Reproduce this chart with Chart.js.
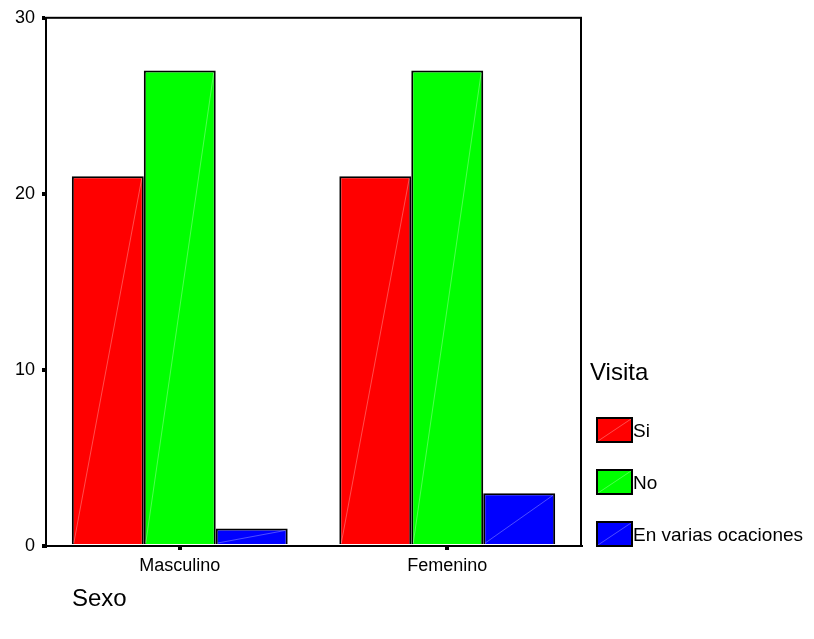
<!DOCTYPE html>
<html>
<head>
<meta charset="utf-8">
<script src="https://cdn.jsdelivr.net/npm/chart.js@4"></script>
<style>
  html, body { margin: 0; padding: 0; background: #fff; }
  #wrap { width: 814px; height: 639px; }
</style>
</head>
<body>
<div id="wrap"><canvas id="c" width="814" height="639"></canvas></div>
<script>
const categories = ['Masculino', 'Femenino'];
const seriesNames = ['Si', 'No', 'En varias ocaciones'];
const siValues = [21, 21];
const noValues = [27, 27];
const variasValues = [1, 3];
const yTicks = [0, 10, 20, 30];
const seriesColors = ['#ff0000', '#00ff00', '#0000ff'];

const FONT = '"Liberation Sans", Arial, sans-serif';

// 枠線・diagonal・凡例を描く
const spssDecor = {
  id: 'spssDecor',
  afterDatasetsDraw(chart) {
    const ctx = chart.ctx;
    ctx.save();
    ctx.strokeStyle = 'rgba(255,255,255,0.3)';
    ctx.lineWidth = 1;
    chart.data.datasets.forEach((ds, i) => {
      chart.getDatasetMeta(i).data.forEach(bar => {
        const l = bar.x - bar.width / 2, r = bar.x + bar.width / 2;
        ctx.beginPath();
        ctx.moveTo(l + 2, bar.base - 1);
        ctx.lineTo(r - 2, bar.y + 2);
        ctx.stroke();
      });
    });
    ctx.restore();
  },
  afterDraw(chart) {
    const ctx = chart.ctx;
    const a = chart.chartArea;
    ctx.save();
    ctx.strokeStyle = '#000';
    ctx.lineWidth = 2;
    ctx.strokeRect(a.left, a.top, a.right - a.left, a.bottom - a.top);

    // 軸タイトル
    ctx.fillStyle = '#000';
    ctx.textBaseline = 'alphabetic';
    ctx.textAlign = 'left';
    ctx.font = '24px ' + FONT;
    ctx.fillText('Sexo', 72, 606);
    ctx.fillText('Visita', 590, 380);

    // 凡例
    ctx.font = '19px ' + FONT;
    chart.data.datasets.forEach((ds, i) => {
      const y = 418 + i * 52;
      ctx.fillStyle = ds.backgroundColor;
      ctx.fillRect(597, y, 35, 24);
      ctx.strokeStyle = 'rgba(255,255,255,0.3)';
      ctx.lineWidth = 1;
      ctx.beginPath();
      ctx.moveTo(598, y + 23);
      ctx.lineTo(631, y + 1);
      ctx.stroke();
      ctx.lineWidth = 2;
      ctx.strokeStyle = '#000';
      ctx.strokeRect(597, y, 35, 24);
      ctx.fillStyle = '#000';
      ctx.textBaseline = 'alphabetic';
      ctx.fillText(ds.label, 633, y + 19);
    });
    ctx.restore();
  }
};

new Chart(document.getElementById('c'), {
  type: 'bar',
  data: {
    labels: categories,
    datasets: [
      { label: seriesNames[0], data: siValues, backgroundColor: seriesColors[0] },
      { label: seriesNames[1], data: noValues, backgroundColor: seriesColors[1] },
      { label: seriesNames[2], data: variasValues, backgroundColor: seriesColors[2] }
    ].map(d => Object.assign(d, { borderColor: '#000', borderWidth: 2, borderSkipped: 'bottom', categoryPercentage: 0.807, barPercentage: 1 }))
  },
  options: {
    responsive: false,
    animation: false,
    layout: { padding: { top: 17, right: 233, left: 0, bottom: 0 } },
    plugins: { legend: { display: false }, tooltip: { enabled: false } },
    scales: {
      x: {
        offset: true,
        grid: { display: true, offset: false, drawOnChartArea: false, color: '#000', tickLength: 4, lineWidth: 4 },
        border: { display: true, color: '#000', width: 2 },
        ticks: { color: '#000', font: { family: FONT, size: 18 }, padding: 5 },
        afterFit(s) { s.height = 93; }
      },
      y: {
        min: 0,
        max: 30,
        afterBuildTicks(s) { s.ticks = yTicks.map(v => ({ value: v })); },
        grid: { display: true, drawOnChartArea: false, color: '#000', tickLength: 4, lineWidth: 4 },
        border: { display: true, color: '#000', width: 2 },
        ticks: { color: '#000', font: { family: FONT, size: 18 }, padding: 7 },
        afterFit(s) { s.width = 46; }
      }
    }
  },
  plugins: [spssDecor]
});
</script>
</body>
</html>
